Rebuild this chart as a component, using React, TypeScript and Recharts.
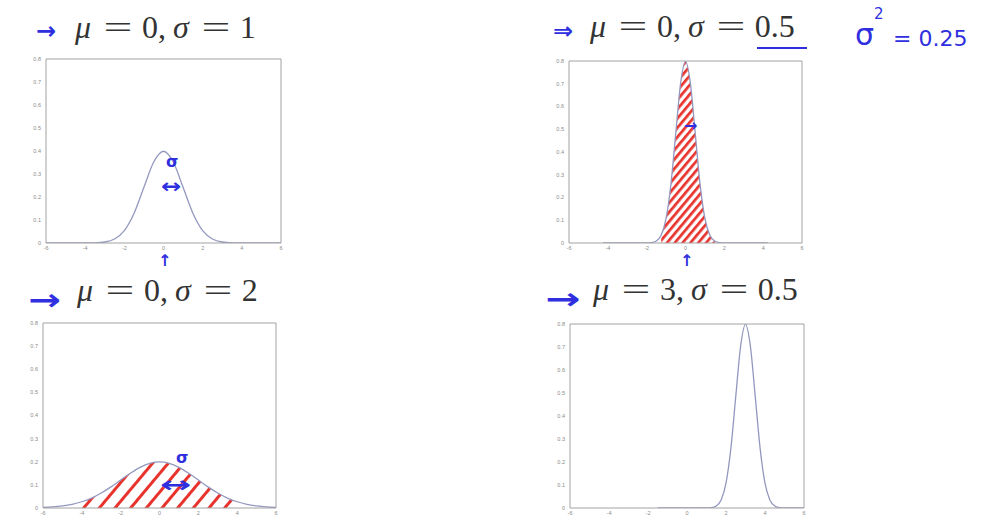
import React from 'react';
import {
  ComposedChart,
  Line,
  Area,
  XAxis,
  YAxis,
  ReferenceLine
} from 'recharts';

// x positions sampled for each panel
const xWide = [-6, -5.5, -5, -4.5, -4, -3.5, -3, -2.5, -2, -1.5, -1, -0.5, 0, 0.5, 1, 1.5, 2, 2.5, 3, 3.5, 4, 4.5, 5, 5.5, 6];
const xNarrow = [-4.25, -4, -3.75, -3.5, -3.25, -3, -2.75, -2.5, -2.25, -2, -1.75, -1.5, -1.25, -1, -0.75, -0.5, -0.25, 0, 0.25, 0.5, 0.75, 1, 1.25, 1.5, 1.75, 2, 2.25, 2.5, 2.75, 3, 3.25, 3.5, 3.75, 4, 4.25];
const xShifted = [-1.5, -1.25, -1, -0.75, -0.5, -0.25, 0, 0.25, 0.5, 0.75, 1, 1.25, 1.5, 1.75, 2, 2.25, 2.5, 2.75, 3, 3.25, 3.5, 3.75, 4, 4.25, 4.5, 4.75, 5, 5.25, 5.5, 5.75, 6];

// density values
const mu0sigma1 = [0, 0, 0, 0, 0.0001, 0.0009, 0.0044, 0.0175, 0.054, 0.1295, 0.242, 0.352, 0.399, 0.352, 0.242, 0.1295, 0.054, 0.0175, 0.0044, 0.0009, 0.0001, 0, 0, 0, 0];
const mu0sigma2 = [0.0022, 0.0045, 0.0088, 0.0159, 0.027, 0.043, 0.0648, 0.0913, 0.121, 0.1506, 0.176, 0.1933, 0.1995, 0.1933, 0.176, 0.1506, 0.121, 0.0913, 0.0648, 0.043, 0.027, 0.0159, 0.0088, 0.0045, 0.0022];
const mu0sigmaHalf = [0, 0, 0, 0, 0, 0, 0, 0, 0, 0.0003, 0.0018, 0.0089, 0.035, 0.108, 0.259, 0.484, 0.704, 0.798, 0.704, 0.484, 0.259, 0.108, 0.035, 0.0089, 0.0018, 0.0003, 0, 0, 0, 0, 0, 0, 0, 0, 0];
const mu3sigmaHalf = [0, 0, 0, 0, 0, 0, 0, 0, 0, 0, 0.0003, 0.0018, 0.0089, 0.035, 0.108, 0.259, 0.484, 0.704, 0.798, 0.704, 0.484, 0.259, 0.108, 0.035, 0.0089, 0.0018, 0.0003, 0, 0, 0, 0];

const xTicks = [-6, -4, -2, 0, 2, 4, 6];
const yTicks = [0, 0.1, 0.2, 0.3, 0.4, 0.5, 0.6, 0.7, 0.8];

const CURVE = '#9498bf';
const FRAME = '#a2a2a2';
const INK = '#2f2fe0';
const RED = '#e8322c';

const tickStyle = { fontSize: 5.5, fill: '#8a8a8a', fontFamily: 'Liberation Sans' };

interface PanelProps {
  id: string;
  xs: number[];
  ys: number[];
  hatch?: [number, number];
  gap?: number;
  stripe?: number;
  left: number;
  top: number;
  w: number;
  h: number;
}

const Panel: React.FC<PanelProps> = ({ id, xs, ys, hatch, gap = 8, stripe = 0.4, left, top, w, h }) => {
  const rows = xs.map((x, i) => ({
    x,
    y: ys[i],
    hatch: hatch && x >= hatch[0] && x <= hatch[1] ? ys[i] : null
  }));

  return (
    <div style={{ position: 'absolute', left: left - 22, top: top - 4 }}>
      <ComposedChart
        width={w + 28}
        height={h + 18}
        data={rows}
        margin={{ top: 4, right: 6, left: 0, bottom: 0 }}
      >
        <defs>
          <pattern id={id} width={gap} height={gap} patternUnits="userSpaceOnUse" patternTransform="rotate(40)">
            <rect width={gap * stripe} height={gap} fill={RED} />
          </pattern>
        </defs>
        <XAxis
          dataKey="x"
          type="number"
          domain={[-6, 6]}
          ticks={xTicks}
          allowDataOverflow
          height={14}
          stroke={FRAME}
          tickLine={false}
          tickSize={2}
          tickMargin={1}
          tick={tickStyle}
        />
        <YAxis
          type="number"
          domain={[0, 0.8]}
          ticks={yTicks}
          allowDataOverflow
          width={22}
          stroke={FRAME}
          tickLine={false}
          tickSize={3}
          tickMargin={2}
          tick={tickStyle}
          tickFormatter={(v: number) => (v === 0 ? '0' : v.toFixed(1))}
        />
        <ReferenceLine y={0.8} stroke={FRAME} ifOverflow="extendDomain" />
        <ReferenceLine x={6} stroke={FRAME} ifOverflow="extendDomain" />
        {hatch && (
          <Area
            dataKey="hatch"
            type="monotone"
            stroke="none"
            fill={`url(#${id})`}
            fillOpacity={1}
            isAnimationActive={false}
          />
        )}
        <Line
          dataKey="y"
          type="monotone"
          stroke={CURVE}
          strokeWidth={1.3}
          dot={false}
          isAnimationActive={false}
        />
      </ComposedChart>
    </div>
  );
};

// wide LaTeX-style equals sign
const Eq: React.FC = () => (
  <span
    style={{
      display: 'inline-block',
      width: 30,
      textAlign: 'center',
      margin: '0 9px 0 12px',
      fontStyle: 'normal'
    }}
  >
    <span style={{ display: 'inline-block', transform: 'scaleX(1.6)' }}>=</span>
  </span>
);

interface TitleProps {
  left: number;
  top: number;
  mu: string;
  sigma: string;
}

const Title: React.FC<TitleProps> = ({ left, top, mu, sigma }) => (
  <div
    style={{
      position: 'absolute',
      left,
      top,
      fontFamily: '"Liberation Serif", serif',
      fontSize: 32,
      lineHeight: 1,
      color: '#333',
      whiteSpace: 'pre'
    }}
  >
    <i>μ</i>
    <Eq />
    {mu},
    <i style={{ marginLeft: 7 }}>σ</i>
    <Eq />
    {sigma}
  </div>
);

const Ink: React.FC<{ left: number; top: number; size: number; text: string; weight?: number; sx?: number }> = ({
  left,
  top,
  size,
  text,
  weight = 700,
  sx = 1
}) => (
  <div
    style={{
      position: 'absolute',
      left,
      top,
      color: INK,
      fontSize: size,
      fontWeight: weight,
      lineHeight: 1,
      fontFamily: '"DejaVu Sans", sans-serif',
      whiteSpace: 'pre',
      transform: sx !== 1 ? `scaleX(${sx})` : undefined,
      transformOrigin: 'left center'
    }}
  >
    {text}
  </div>
);

export default function App() {
  return (
    <div
      style={{
        position: 'fixed',
        left: 0,
        top: 0,
        width: 987,
        height: 526,
        background: '#fff',
        overflow: 'hidden'
      }}
    >
      <Panel id="p1" xs={xWide} ys={mu0sigma1} left={46} top={59} w={235} h={184} />
      <Panel id="p2" xs={xNarrow} ys={mu0sigmaHalf} hatch={[-1.25, 1.5]} gap={6} stripe={0.45} left={569} top={61} w={233} h={182} />
      <Panel id="p3" xs={xWide} ys={mu0sigma2} hatch={[-4, 4]} gap={12} stripe={0.25} left={43} top={323} w={233} h={185} />
      <Panel id="p4" xs={xShifted} ys={mu3sigmaHalf} left={570} top={324} w={234} h={184} />

      <Title left={75} top={11} mu="0" sigma="1" />
      <Title left={590} top={10} mu="0" sigma="0.5" />
      <Title left={77} top={274} mu="0" sigma="2" />
      <Title left={593} top={273} mu="3" sigma="0.5" />

      {/* handwritten notes */}
      <Ink left={36} top={19} size={24} text="→" />
      <Ink left={553} top={19} size={24} text="⇒" />
      <Ink left={28} top={285} size={30} text="→" sx={1.3} />
      <Ink left={545} top={284} size={30} text="→" sx={1.4} />
      <div style={{ position: 'absolute', left: 757, top: 47, width: 50, height: 2, background: INK }} />
      <Ink left={855} top={20} size={30} weight={400} text="σ" />
      <Ink left={874} top={7} size={15} weight={400} text="2" />
      <Ink left={893} top={28} size={22} weight={400} text="= 0.25" />

      <Ink left={166} top={154} size={16} text="σ" />
      <Ink left={161} top={176} size={20} text="↔" sx={1.2} />
      <Ink left={158} top={253} size={16} text="↑" />

      <Ink left={684} top={118} size={16} text="→" />
      <Ink left={680} top={253} size={16} text="↑" />

      <Ink left={176} top={450} size={16} text="σ" />
      <Ink left={160} top={474} size={22} text="↔" sx={1.7} />
    </div>
  );
}
